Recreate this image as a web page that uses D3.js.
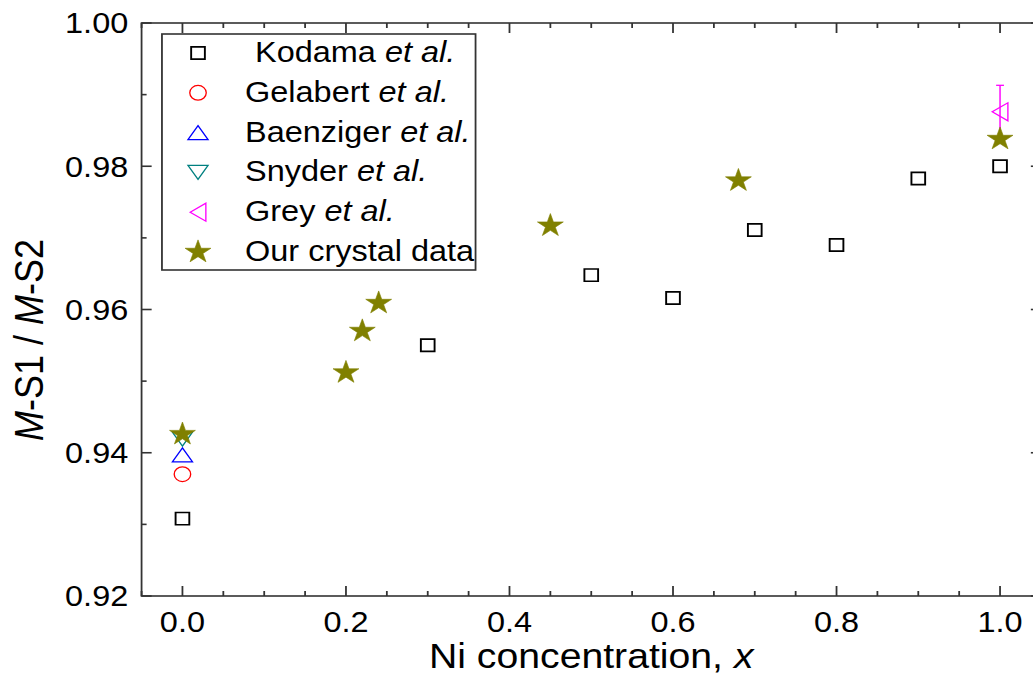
<!DOCTYPE html>
<html>
<head>
<meta charset="utf-8">
<script src="https://cdn.jsdelivr.net/npm/d3@7"></script>
<style>
  html, body { margin: 0; padding: 0; background: #fff; }
  svg { display: block; }
  text { font-family: Arial, "Liberation Sans", sans-serif; fill: #000; }
</style>
</head>
<body>
<div id="chart"></div>
<script>
// values
const kodamaX = [0.0, 0.3, 0.5, 0.6, 0.7, 0.8, 0.9, 1.0];
const kodamaY = [0.9308, 0.9550, 0.9648, 0.9616, 0.9711, 0.9690, 0.9783, 0.9800];
const gelabertX = [0.0];
const gelabertY = [0.9370];
const baenzigerX = [0.0];
const baenzigerY = [0.9397];
const snyderX = [0.0];
const snyderY = [0.9419];
const greyX = [1.0];
const greyY = [0.9876];
const greyErr = [0.0037];
const crystalX = [0.0, 0.2, 0.22, 0.24, 0.45, 0.68, 1.0];
const crystalY = [0.9426, 0.9512, 0.9570, 0.9609, 0.9717, 0.9780, 0.9838];

const xTicks = [0.0, 0.2, 0.4, 0.6, 0.8, 1.0];
const yTicks = [0.92, 0.94, 0.96, 0.98, 1.00];

const legendNames = ["Kodama", "Gelabert", "Baenziger", "Snyder", "Grey", "Our crystal data"];

const W = 1033, H = 686;
const sx = 1.12;               // the picture is a little stretched sideways
const VW = W / sx;

const svg = d3.select("#chart").append("svg")
    .attr("width", W)
    .attr("height", H)
    .attr("viewBox", "0 0 " + VW + " " + H)
    .attr("preserveAspectRatio", "none");

const x = d3.scaleLinear().domain([-0.05, 1.05]).range([126.4, 929.4]);
const y = d3.scaleLinear().domain([0.92, 1.00]).range([596, 23]);

// marker shapes
function upTri(w, h) { return "M0," + (-h / 2) + "L" + (w / 2) + "," + (h / 2) + "L" + (-w / 2) + "," + (h / 2) + "Z"; }
function downTri(w, h) { return "M0," + (h / 2) + "L" + (w / 2) + "," + (-h / 2) + "L" + (-w / 2) + "," + (-h / 2) + "Z"; }
function leftTri(w, h) { return "M" + (-w / 2) + ",0L" + (w / 2) + "," + (-h / 2) + "L" + (w / 2) + "," + (h / 2) + "Z"; }

const series = [
    {name: "Kodama", xs: kodamaX, ys: kodamaY, color: "#000000", fill: "none", sw: 1.7,
     path: d3.symbol(d3.symbolSquare, 150)()},
    {name: "Gelabert", xs: gelabertX, ys: gelabertY, color: "#ff0000", fill: "none", sw: 1.2,
     path: d3.symbol(d3.symbolCircle, 170)()},
    {name: "Baenziger", xs: baenzigerX, ys: baenzigerY, color: "#0000ff", fill: "none", sw: 1.2,
     path: upTri(18, 14)},
    {name: "Snyder", xs: snyderX, ys: snyderY, color: "#008080", fill: "none", sw: 1.2,
     path: downTri(18, 14)},
    {name: "Grey", xs: greyX, ys: greyY, color: "#ff00ff", fill: "none", sw: 1.2,
     path: leftTri(14, 18)},
    {name: "Our crystal data", xs: crystalX, ys: crystalY, color: "#808000", fill: "#808000", sw: 0.6,
     path: d3.symbol(d3.symbolStar, 165)()}
];

const plot = svg.append("g");

// error bar for Grey et al.
const ebar = plot.append("g").attr("stroke", "#ff00ff").attr("stroke-width", 1.3).attr("fill", "none");
greyX.forEach(function (gx, i) {
    const cx = x(gx), top = y(greyY[i] + greyErr[i]), bot = y(greyY[i] - greyErr[i]);
    ebar.append("line").attr("x1", cx).attr("x2", cx).attr("y1", top).attr("y2", bot);
    ebar.append("line").attr("x1", cx - 3.5).attr("x2", cx + 3.5).attr("y1", top).attr("y2", top);
    ebar.append("line").attr("x1", cx - 3.5).attr("x2", cx + 3.5).attr("y1", bot).attr("y2", bot);
});

series.forEach(function (s) {
    const pts = s.xs.map(function (d, i) { return [d, s.ys[i]]; });
    plot.append("g").selectAll("path")
        .data(pts)
        .enter().append("path")
        .attr("d", s.path)
        .attr("transform", function (d) { return "translate(" + x(d[0]) + "," + y(d[1]) + ")"; })
        .attr("fill", s.fill)
        .attr("stroke", s.color)
        .attr("stroke-width", s.sw);
});

// frame and inward ticks on all four sides
const frame = svg.append("g").attr("stroke", "#333").attr("stroke-width", 1.6);
frame.append("rect")
    .attr("x", x.range()[0]).attr("y", y.range()[1])
    .attr("width", x.range()[1] - x.range()[0])
    .attr("height", y.range()[0] - y.range()[1])
    .attr("fill", "none");

const xMinor = d3.range(-0.05, 1.051, 0.05).filter(function (v) { return Math.abs(Math.round(v * 10) - v * 10) > 0.01 || Math.round(v * 10) % 2 !== 0; });
const yMinor = d3.range(0.93, 1.0, 0.02);

xTicks.forEach(function (v) {
    frame.append("line").attr("x1", x(v)).attr("x2", x(v)).attr("y1", 596).attr("y2", 586);
    frame.append("line").attr("x1", x(v)).attr("x2", x(v)).attr("y1", 23).attr("y2", 33);
});
xMinor.forEach(function (v) {
    frame.append("line").attr("x1", x(v)).attr("x2", x(v)).attr("y1", 596).attr("y2", 591);
    frame.append("line").attr("x1", x(v)).attr("x2", x(v)).attr("y1", 23).attr("y2", 28);
});
yTicks.forEach(function (v) {
    frame.append("line").attr("x1", x.range()[0]).attr("x2", x.range()[0] + 9).attr("y1", y(v)).attr("y2", y(v));
    frame.append("line").attr("x1", x.range()[1]).attr("x2", x.range()[1] - 9).attr("y1", y(v)).attr("y2", y(v));
});
yMinor.forEach(function (v) {
    frame.append("line").attr("x1", x.range()[0]).attr("x2", x.range()[0] + 4.5).attr("y1", y(v)).attr("y2", y(v));
    frame.append("line").attr("x1", x.range()[1]).attr("x2", x.range()[1] - 4.5).attr("y1", y(v)).attr("y2", y(v));
});

// tick labels
svg.append("g").selectAll("text")
    .data(xTicks)
    .enter().append("text")
    .attr("x", function (d) { return x(d); })
    .attr("y", 632)
    .attr("text-anchor", "middle")
    .attr("font-size", "29px")
    .text(function (d) { return d3.format(".1f")(d); });

svg.append("g").selectAll("text")
    .data(yTicks)
    .enter().append("text")
    .attr("x", 114.5)
    .attr("y", function (d) { return y(d) + 10.5; })
    .attr("text-anchor", "end")
    .attr("font-size", "29px")
    .text(function (d) { return d3.format(".2f")(d); });

// axis titles
const xt = svg.append("text")
    .attr("x", (x.range()[0] + x.range()[1]) / 2)
    .attr("y", 668)
    .attr("text-anchor", "middle")
    .attr("font-size", "35px");
xt.append("tspan").text("Ni concentration, ");
xt.append("tspan").attr("font-style", "italic").text("x");

const yt = svg.append("text")
    .attr("transform", "translate(38.5,340) rotate(-90)")
    .attr("text-anchor", "middle")
    .attr("font-size", "36px");
yt.append("tspan").attr("font-style", "italic").text("M");
yt.append("tspan").text("-S1 / ");
yt.append("tspan").attr("font-style", "italic").text("M");
yt.append("tspan").text("-S2");

// legend
const legend = svg.append("g");
legend.append("rect")
    .attr("x", 144.6).attr("y", 34)
    .attr("width", 280).attr("height", 236)
    .attr("fill", "#fff")
    .attr("stroke", "#333")
    .attr("stroke-width", 1.6);

series.forEach(function (s, i) {
    const ry = 53 + i * 39.8;
    legend.append("path")
        .attr("d", s.path)
        .attr("transform", "translate(176.8," + ry + ")")
        .attr("fill", s.fill)
        .attr("stroke", s.color)
        .attr("stroke-width", s.sw);
    const t = legend.append("text")
        .attr("x", i === 0 ? 227.7 : 218.8)
        .attr("y", ry + 9)
        .attr("font-size", "29px");
    if (i < legendNames.length - 1) {
        t.append("tspan").text(legendNames[i] + " ");
        t.append("tspan").attr("font-style", "italic").text("et al.");
    } else {
        t.text(legendNames[i]);
    }
});
</script>
</body>
</html>
